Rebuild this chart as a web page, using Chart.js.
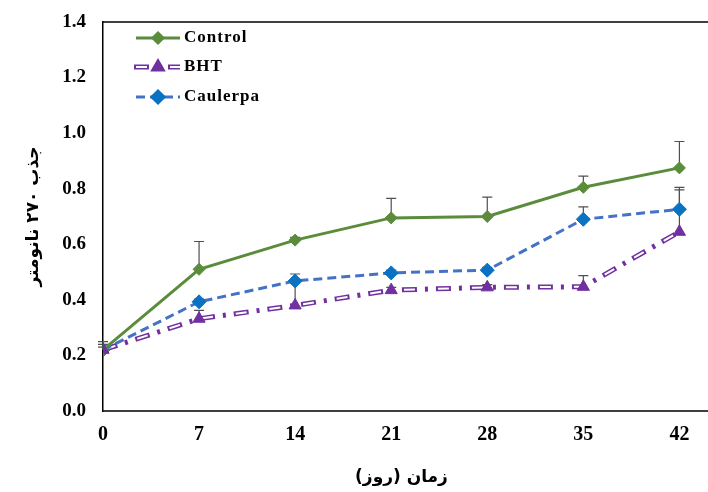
<!DOCTYPE html>
<html>
<head>
<meta charset="utf-8">
<script src="https://cdn.jsdelivr.net/npm/chart.js@4.4.1/dist/chart.umd.min.js"></script>
<style>
html,body{margin:0;padding:0;background:#fff;}
canvas{display:block;}
</style>
</head>
<body>
<canvas id="chart" width="708" height="492"></canvas>
<script>
// days of storage
const days = [0,7,14,21,28,35,42];

const yTicks = [0,0.2,0.4,0.6,0.8,1.0,1.2,1.4];

const control = [0.22,0.51,0.615,0.695,0.70,0.805,0.875];
const controlErr = [0.02,0.10,0.01,0.07,0.07,0.04,0.095];

const bht = [0.22,0.332,0.38,0.435,0.445,0.447,0.645];
const bhtErr = [0.01,0.03,0.09,0.01,0.01,0.04,0.16];

const caulerpa = [0.22,0.393,0.468,0.497,0.507,0.69,0.726];
const caulerpaErr = [0.03,0.01,0.025,0.01,0.01,0.045,0.07];

const labels = ["Control","BHT","Caulerpa"];

const GREEN = "#5A8C3C";
const PURPLE = "#7030A0";
const BLUE_LINE = "#4472C4";
const BLUE = "#0A72C2";

const BHT_DASH = [15,8,3,8];
const BHT_INNER = [11,23];

const pts = arr => days.map((d,i)=>({x:d,y:arr[i]}));

// error bars (plus side only, like excel)
const errorBars = {
id:"errorBars",
beforeDatasetsDraw(chart){
const ctx = chart.ctx;
const x = chart.scales.x;
const y = chart.scales.y;
ctx.save();
ctx.strokeStyle = "#505050";
ctx.lineWidth = 1.2;
chart.data.datasets.forEach(ds=>{
if(!ds.errors) return;
ds.data.forEach((p,j)=>{
const px = x.getPixelForValue(p.x);
const py = y.getPixelForValue(p.y);
const top = y.getPixelForValue(p.y + ds.errors[j]);
ctx.beginPath();
ctx.moveTo(px,py);
ctx.lineTo(px,top);
ctx.moveTo(px-5,top);
ctx.lineTo(px+5,top);
ctx.stroke();
});
});
ctx.restore();
}
};

// frame lines (plot box runs off the right edge) + legend inside plot
const frameLegend = {
id:"frameLegend",
afterDraw(chart){
const ctx = chart.ctx;
const a = chart.chartArea;
ctx.save();
ctx.strokeStyle = "#000";
ctx.lineWidth = 1.5;
ctx.beginPath();
ctx.moveTo(a.left,a.top);
ctx.lineTo(chart.width,a.top);
ctx.moveTo(a.left,a.bottom);
ctx.lineTo(chart.width,a.bottom);
ctx.stroke();

const x0 = a.left + 33;
const x1 = a.left + 77;
const xm = a.left + 55;
const rows = [a.top+16, a.top+45, a.top+75];

ctx.lineCap = "butt";

// Control
ctx.strokeStyle = GREEN;
ctx.lineWidth = 3;
ctx.setLineDash([]);
ctx.beginPath();
ctx.moveTo(x0,rows[0]);
ctx.lineTo(x1,rows[0]);
ctx.stroke();
ctx.fillStyle = GREEN;
Chart.helpers.drawPoint(ctx,{pointStyle:"rectRot",radius:5,borderWidth:1},xm,rows[0]);

// BHT
ctx.strokeStyle = PURPLE;
ctx.lineWidth = 5;
ctx.setLineDash(BHT_DASH);
ctx.beginPath();
ctx.moveTo(x0-2,rows[1]);
ctx.lineTo(x1,rows[1]);
ctx.stroke();
ctx.strokeStyle = "#fff";
ctx.lineWidth = 2;
ctx.setLineDash(BHT_INNER);
ctx.lineDashOffset = -2;
ctx.beginPath();
ctx.moveTo(x0-2,rows[1]);
ctx.lineTo(x1,rows[1]);
ctx.stroke();
ctx.setLineDash([]);
ctx.lineDashOffset = 0;
ctx.fillStyle = PURPLE;
ctx.strokeStyle = PURPLE;
Chart.helpers.drawPoint(ctx,{pointStyle:"triangle",radius:7,borderWidth:1},xm,rows[1]);

// Caulerpa
ctx.strokeStyle = BLUE_LINE;
ctx.lineWidth = 3;
ctx.setLineDash([9,5]);
ctx.beginPath();
ctx.moveTo(x0,rows[2]);
ctx.lineTo(x1,rows[2]);
ctx.stroke();
ctx.setLineDash([]);
ctx.fillStyle = BLUE;
ctx.strokeStyle = BLUE;
Chart.helpers.drawPoint(ctx,{pointStyle:"rectRot",radius:6,borderWidth:1},xm,rows[2]);

ctx.fillStyle = "#000";
ctx.font = "bold 17px 'Liberation Serif'";
ctx.letterSpacing = "1px";
ctx.textBaseline = "middle";
ctx.textAlign = "left";
labels.forEach((t,i)=>{
ctx.fillText(t,x1+4,rows[i]);
});
ctx.restore();
}
};

const yTickFont = {family:"'Liberation Serif'",size:19,weight:"bold"};
const xTickFont = {family:"'Liberation Serif'",size:20,weight:"bold"};
const titleFont = {family:"'DejaVu Sans'",size:17,weight:"bold"};

new Chart(
document.getElementById("chart"),
{
type:"line",
data:{
datasets:[
{
label:"Control",
data:pts(control),
errors:controlErr,
borderColor:GREEN,
backgroundColor:GREEN,
borderWidth:3,
pointStyle:"rectRot",
pointRadius:6,
pointBorderWidth:1,
order:1
},
{
label:"BHT",
data:pts(bht),
errors:bhtErr,
showLine:false,
borderColor:PURPLE,
backgroundColor:PURPLE,
pointStyle:"triangle",
pointRadius:7,
pointBorderWidth:1,
order:0
},
{
label:"BHT line inner",
data:pts(bht),
borderColor:"#fff",
borderWidth:2,
borderDash:BHT_INNER,
borderDashOffset:-2,
pointRadius:0,
order:2
},
{
label:"BHT line",
data:pts(bht),
borderColor:PURPLE,
borderWidth:5,
borderDash:BHT_DASH,
pointRadius:0,
order:3
},
{
label:"Caulerpa",
data:pts(caulerpa),
errors:caulerpaErr,
borderColor:BLUE_LINE,
backgroundColor:BLUE,
pointBorderColor:BLUE,
borderWidth:3,
borderDash:[9,5],
pointStyle:"rectRot",
pointRadius:7,
pointBorderWidth:1,
order:1
}
]
},
options:{
responsive:false,
animation:false,
devicePixelRatio:1,
layout:{padding:{top:22,right:0,left:0,bottom:0}},
plugins:{
legend:{display:false},
tooltip:{enabled:false}
},
scales:{
x:{
type:"linear",
min:0,
max:43.5,
afterBuildTicks:s=>{ s.ticks = days.map(v=>({value:v})); },
afterFit:s=>{ s.height = 81; },
grid:{display:false,drawTicks:false},
border:{display:false},
ticks:{font:xTickFont,color:"#000",padding:12,maxRotation:0},
title:{display:true,text:"زمان (روز)",font:titleFont,color:"#000",padding:{top:0,bottom:4}}
},
y:{
min:0,
max:1.4,
afterBuildTicks:s=>{ s.ticks = yTicks.map(v=>({value:v})); },
afterFit:s=>{ s.width = 103; s.paddingTop = 0; s.paddingBottom = 0; },
grid:{display:false,drawTicks:false},
border:{display:true,color:"#000",width:1.5},
ticks:{font:yTickFont,color:"#000",padding:17,callback:v=>v.toFixed(1)},
title:{display:true,text:"جذب ۲۷۰ نانومتر",font:titleFont,color:"#000",padding:{top:23,bottom:0}}
}
}
},
plugins:[errorBars,frameLegend]
}
);
</script>
</body>
</html>
